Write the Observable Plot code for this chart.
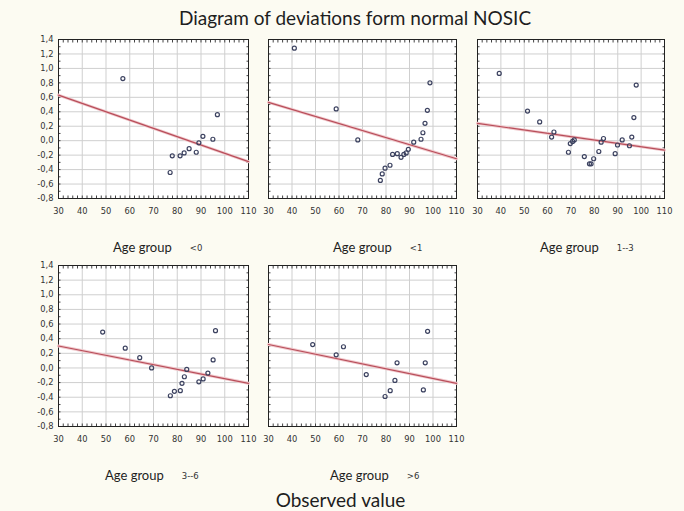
<!DOCTYPE html>
<html><head><meta charset="utf-8">
<script src="https://cdn.jsdelivr.net/npm/d3@7"></script>
<script src="https://cdn.jsdelivr.net/npm/@observablehq/plot@0.6"></script>
<style>
html,body{margin:0;padding:0;background:#fcfbf2;}
#fig{position:relative;width:684px;height:511px;background:#fcfbf2;overflow:hidden;font-family:Lato,"Open Sans",sans-serif;color:#1e1e1e;}
.panel{position:absolute;}
.title{position:absolute;top:6px;left:0;width:710px;text-align:center;font-size:19px;}
.caption{position:absolute;top:488px;left:0;width:681px;text-align:center;font-size:19px;}
.glabel{position:absolute;font-size:13px;white-space:nowrap;}
.glabel span{font-family:"DejaVu Sans",sans-serif;font-size:8.5px;color:#333;margin-left:18px;vertical-align:1px;}
</style></head>
<body><div id="fig">
<div class="title">Diagram of deviations form normal NOSIC</div>
<div class="caption">Observed value</div>
</div>
<script>
const ageGroups = ["<0", "<1", "1--3", "3--6", ">6"];
const xTicks = [30, 40, 50, 60, 70, 80, 90, 100, 110];
const yTicks = [1.4, 1.2, 1.0, 0.8, 0.6, 0.4, 0.2, 0.0, -0.2, -0.4, -0.6, -0.8];

const obs_lt0 = [57.1, 77.0, 77.9, 81.2, 82.9, 85.0, 88.0, 89.1, 90.8, 95.0, 96.9];
const dev_lt0 = [0.86, -0.44, -0.21, -0.21, -0.17, -0.11, -0.16, -0.03, 0.06, 0.02, 0.36];

const obs_lt1 = [41.0, 58.8, 68.0, 77.6, 78.4, 79.6, 81.7, 82.8, 84.8, 86.4, 87.6, 88.6, 89.5, 91.8, 94.9, 95.7, 96.6, 97.6, 98.7];
const dev_lt1 = [1.28, 0.44, 0.01, -0.55, -0.46, -0.38, -0.34, -0.19, -0.18, -0.23, -0.19, -0.17, -0.12, -0.02, 0.02, 0.11, 0.24, 0.42, 0.80];

const obs_1to3 = [39.3, 51.4, 56.6, 61.7, 62.7, 68.9, 69.7, 70.7, 71.4, 75.7, 77.9, 78.6, 79.7, 81.9, 82.9, 83.9, 88.9, 89.9, 91.9, 95.0, 96.0, 96.9, 97.9];
const dev_1to3 = [0.93, 0.41, 0.26, 0.05, 0.12, -0.16, -0.04, -0.01, 0.01, -0.22, -0.32, -0.32, -0.25, -0.15, -0.02, 0.03, -0.18, -0.06, 0.01, -0.07, 0.05, 0.32, 0.77];

const obs_3to6 = [48.6, 58.1, 64.2, 69.2, 77.1, 78.8, 81.3, 82.0, 83.0, 84.0, 89.1, 90.9, 92.9, 95.1, 96.1];
const dev_3to6 = [0.49, 0.27, 0.14, 0.00, -0.38, -0.32, -0.31, -0.21, -0.12, -0.02, -0.19, -0.15, -0.07, 0.11, 0.51];

const obs_gt6 = [48.8, 58.8, 61.9, 71.6, 79.6, 81.8, 83.8, 84.7, 95.9, 96.7, 97.7];
const dev_gt6 = [0.32, 0.18, 0.29, -0.09, -0.39, -0.31, -0.17, 0.07, -0.30, 0.07, 0.50];

// fitted line values at x = 30 and x = 110
const fitX = [30, 110];
const fitAt30 = [0.63, 0.53, 0.24, 0.30, 0.32];
const fitAt110 = [-0.29, -0.25, -0.13, -0.21, -0.21];

const observed = [obs_lt0, obs_lt1, obs_1to3, obs_3to6, obs_gt6];
const deviations = [dev_lt0, dev_lt1, dev_1to3, dev_3to6, dev_gt6];

// layout (frame boxes)
const colLeft = [58, 268, 477], colWidth = [190, 188, 187];
const rowTop = [39, 265], rowHeight = [159, 161];
const labelTop = [239, 467];
const labelLeft = [113, 333, 540];
const labelLeft2 = [105, 330];

const minorX = d3.range(30, 110.01, 2);
const minorY = d3.range(-0.8, 1.401, 0.1);
const fmt = d => d.toFixed(1).replace(".", ",").replace("-0,0", "0,0");

const fig = document.getElementById("fig");
const mL = 40, mT = 6, mR = 14, mB = 26;

ageGroups.forEach((g, i) => {
  const col = i % 3, row = Math.floor(i / 3);
  const pts = observed[i].map((x, j) => ({x, y: deviations[i][j]}));
  const fit = fitX.map((x, j) => ({x, y: j === 0 ? fitAt30[i] : fitAt110[i]}));
  const marks = [
    Plot.frame({fill: "white", stroke: null}),
    Plot.gridX(xTicks, {stroke: "#cfcfcf", strokeOpacity: 1}),
    Plot.gridY(yTicks, {stroke: "#cfcfcf", strokeOpacity: 1}),
    Plot.axisX(minorX, {anchor: "bottom", tickSize: -2.5, text: null, stroke: "#444"}),
    Plot.axisX(minorX, {anchor: "top", tickSize: -2.5, text: null, stroke: "#444"}),
    Plot.axisY(minorY, {anchor: "left", tickSize: -2.5, text: null, stroke: "#444"}),
    Plot.axisY(minorY, {anchor: "right", tickSize: -2.5, text: null, stroke: "#444"}),
    Plot.frame({stroke: "#222", strokeWidth: 1}),
    Plot.line(fit, {x: "x", y: "y", stroke: "#f0c8cc", strokeWidth: 3}),
    Plot.line(fit, {x: "x", y: "y", stroke: "#b84e5a", strokeWidth: 1.2}),
    Plot.dot(pts, {x: "x", y: "y", r: 2.0, stroke: "#3c4260", strokeWidth: 1.2, fill: "none"}),
    Plot.axisX(xTicks, {anchor: "bottom", tickSize: 0, tickPadding: 10, tickFormat: d => String(d), fill: "#333"})
  ];
  if (col === 0) marks.push(Plot.axisY(yTicks, {anchor: "left", tickSize: 0, tickPadding: 5, tickFormat: fmt, fill: "#333"}));
  const chart = Plot.plot({
    width: colWidth[col] + mL + mR,
    height: rowHeight[row] + mT + mB,
    marginLeft: mL, marginRight: mR, marginTop: mT, marginBottom: mB,
    x: {domain: [30, 110], label: null},
    y: {domain: [-0.8, 1.4], label: null},
    style: {fontFamily: "'DejaVu Sans', sans-serif", fontSize: "8.3px", background: "transparent", overflow: "visible"},
    marks
  });
  const wrap = document.createElement("div");
  wrap.className = "panel";
  wrap.style.left = (colLeft[col] - mL) + "px";
  wrap.style.top = (rowTop[row] - mT) + "px";
  wrap.appendChild(chart);
  fig.appendChild(wrap);

  const lab = document.createElement("div");
  lab.className = "glabel";
  lab.style.left = (row === 0 ? labelLeft[col] : labelLeft2[col]) + "px";
  lab.style.top = labelTop[row] + "px";
  lab.textContent = "Age group";
  const s = document.createElement("span");
  s.textContent = g;
  lab.appendChild(s);
  fig.appendChild(lab);
});
</script>
</body></html>
